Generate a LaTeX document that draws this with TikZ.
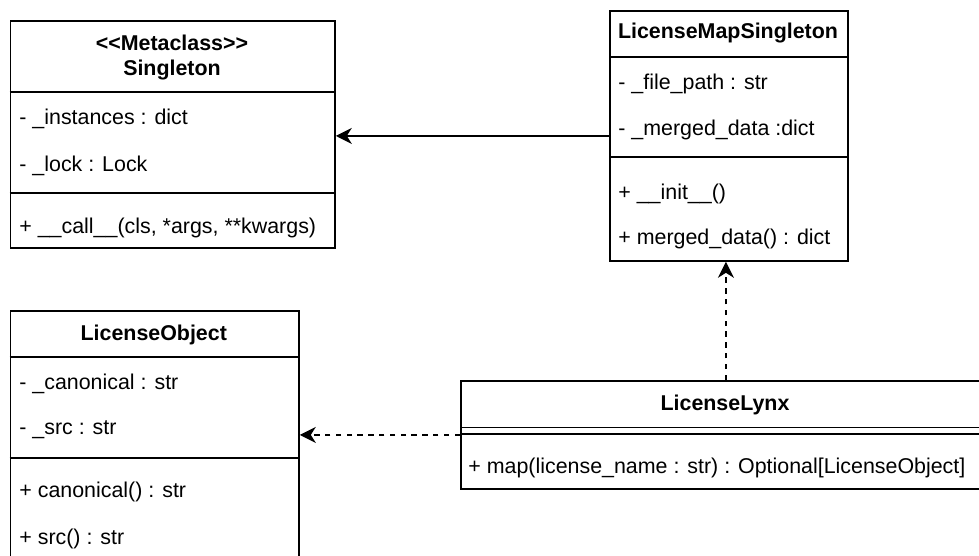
\documentclass[tikz,border=0pt]{standalone}
\usepackage{fontspec}
\setmainfont{Liberation Sans}
\usetikzlibrary{arrows.meta}

\tikzset{
  classbox/.style={draw, line width=0.9pt, inner sep=0pt, anchor=north west},
  rule/.style={line width=0.9pt},
  member/.style={anchor=west, inner sep=0pt, yshift=-1pt, font=\fontsize{10.7}{12.5}\selectfont},
  title/.style={inner sep=0pt, align=center, font=\bfseries\fontsize{10.7}{12.5}\selectfont},
  assoc/.style={-{Stealth[length=8pt,width=8pt,inset=2.5pt]}, line width=0.9pt},
  depend/.style={assoc, dash pattern=on 2.7pt off 2.7pt}
}

\begin{document}
\begin{tikzpicture}[x=0.5pt,y=-0.5pt]
  \clip (0,0) rectangle (979,556);

  % Singleton
  \node[classbox, minimum width=162.25pt, minimum height=113.5pt] (singleton) at (9.5,20) {};
  \draw[rule] (9.5,92) -- (334,92);
  \draw[rule] (9.5,193) -- (334,193);
  \node[title] (singleton-name) at (172,57.5) {<\kern0pt<Metaclass>\kern0pt>\\Singleton};
  \node[member] (singleton-inst) at (19,117) {- \_instances : dict};
  \node[member] (singleton-lock) at (19,164) {- \_lock : Lock};
  \node[member] (singleton-call) at (19,226) {+ \_\_call\_\_(cls, *args, **kwargs)};

  % LicenseMapSingleton
  \node[classbox, minimum width=119pt, minimum height=125pt] (mapsingleton) at (609,10) {};
  \draw[rule] (609,57) -- (847,57);
  \draw[rule] (609,157) -- (847,157);
  \node[title] (mapsingleton-name) at (728,33) {LicenseMapSingleton};
  \node[member] (mapsingleton-path) at (618,82) {- \_file\_path : str};
  \node[member] (mapsingleton-data) at (618,128) {- \_merged\_data :dict};
  \node[member] (mapsingleton-init) at (618,192) {+ \_\_init\_\_()};
  \node[member] (mapsingleton-get) at (618,237) {+ merged\_data() : dict};

  % LicenseObject
  \node[classbox, minimum width=144.25pt, minimum height=124pt] (licobject) at (9.5,310) {};
  \draw[rule] (9.5,357) -- (298,357);
  \draw[rule] (9.5,458) -- (298,458);
  \node[title] (licobject-name) at (153.75,335) {LicenseObject};
  \node[member] (licobject-canon) at (19,382) {- \_canonical : str};
  \node[member] (licobject-src) at (19,428) {- \_src : str};
  \node[member] (licobject-getcanon) at (19,490) {+ canonical() : str};
  \node[member] (licobject-getsrc) at (19,537) {+ src() : str};

  % LicenseLynx
  \node[classbox, minimum width=265pt, minimum height=54pt] (lynx) at (460,380) {};
  \draw[rule] (460,427.5) -- (990,427.5);
  \draw[rule] (460,434) -- (990,434);
  \node[title] (lynx-name) at (725,405) {LicenseLynx};
  \node[member] (lynx-map) at (468,466) {+ map(license\_name : str) : Optional[LicenseObject]};

  \draw[assoc] (mapsingleton.west) -- (singleton.east |- mapsingleton.west);
  \draw[depend] (lynx.north) -- (lynx.north |- mapsingleton.south);
  \draw[depend] (lynx.west) -- (licobject.east |- lynx.west);
\end{tikzpicture}
\end{document}
